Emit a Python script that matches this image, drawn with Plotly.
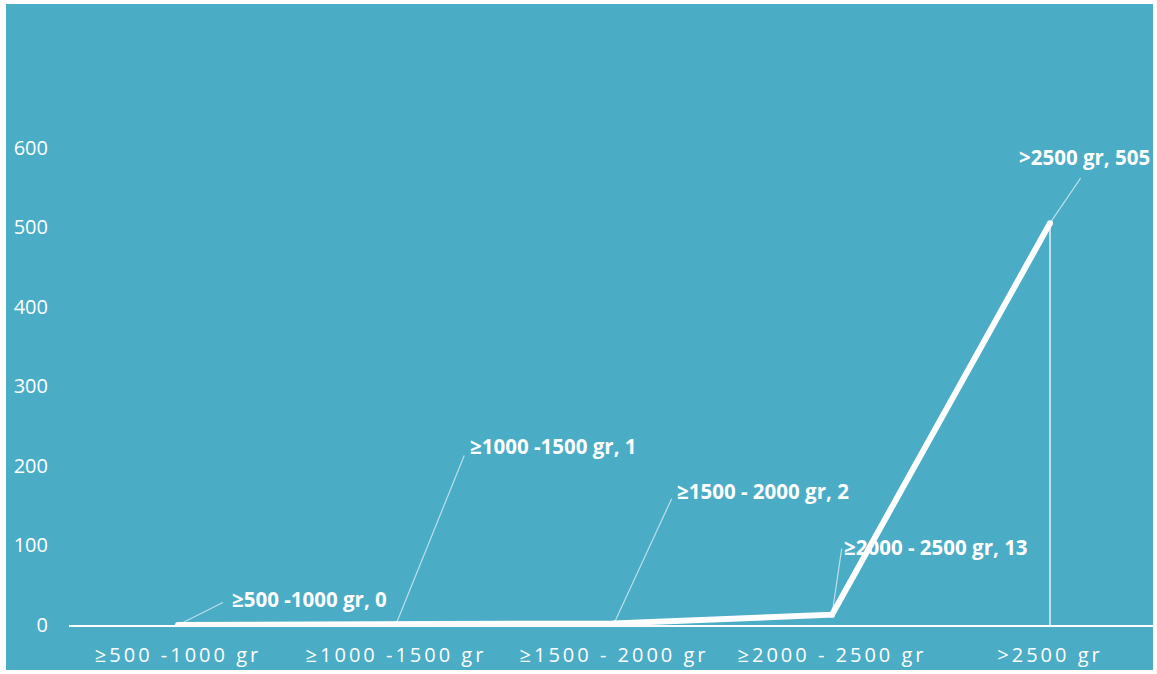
import plotly.graph_objects as go

# Birth-weight bands and counts
categories = ["≥500 -1000 gr", "≥1000 -1500 gr", "≥1500 - 2000 gr", "≥2000 - 2500 gr", ">2500 gr"]
counts = [0, 1, 2, 13, 505]
y_ticks = [0, 100, 200, 300, 400, 500, 600]

TEAL = "#4BACC6"
WHITE = "#FFFFFF"
LEADER = "rgba(255,255,255,0.62)"
FONT = "Open Sans"

W, H = 1157, 674
L, R, T, B = 69, 0, 68, 49
plot_w = W - L - R
plot_h = H - T - B
cat_px = 218  # horizontal pixels per category

fig = go.Figure()

# main series
fig.add_trace(go.Scatter(
    x=categories, y=counts, mode="lines+markers",
    line=dict(color=WHITE, width=6),
    marker=dict(color=WHITE, size=6),
    showlegend=False,
))

# thin drop line under the last point
fig.add_trace(go.Scatter(
    x=[categories[-1], categories[-1]], y=[0, counts[-1]],
    mode="lines", line=dict(color="rgba(255,255,255,0.85)", width=1.5),
    hoverinfo="skip", showlegend=False,
))

# data labels with leader lines (pixel offsets of the text from each point)
offsets = [
    (52, -26, "left", "middle", 8),
    (72, -178, "left", "middle", 10),
    (61, -132, "left", "middle", 8),
    (10, -68, "left", "middle", 2),
    (34, -50, "center", "bottom", 6),
]
for cat, val, (ax, ay, xa, ya, gap) in zip(categories, counts, offsets):
    fig.add_annotation(
        x=cat, y=val, ax=ax, ay=ay, xanchor=xa, yanchor=ya,
        text=f"<b>{cat}, {val}</b>",
        showarrow=True, arrowhead=0, arrowwidth=1.2, arrowcolor=LEADER,
        startstandoff=gap,
        font=dict(family=FONT, size=20.5, color=WHITE),
        borderpad=1,
    )

# teal chart area inside a thin white frame
fig.add_shape(
    type="rect", xref="paper", yref="paper", layer="below",
    x0=(6 - L) / plot_w, x1=(1153 - L) / plot_w,
    y0=(H - B - 670) / plot_h, y1=(H - B - 4) / plot_h,
    fillcolor=TEAL, line=dict(width=0),
)

fig.update_layout(
    width=W, height=H,
    margin=dict(l=L, r=R, t=T, b=B, pad=0),
    paper_bgcolor=WHITE, plot_bgcolor="rgba(0,0,0,0)",
    showlegend=False,
    xaxis=dict(
        type="category",
        categoryorder="array", categoryarray=categories,
        range=[-0.5, -0.5 + plot_w / cat_px],
        tickvals=categories,
        ticktext=[f'<span style="letter-spacing:3px">{c}</span>' for c in categories],
        tickfont=dict(family=FONT, size=20, color=WHITE),
        showgrid=False, zeroline=False,
        showline=True, linecolor=WHITE, linewidth=2,
        ticks="", ticklabelstandoff=11,
    ),
    yaxis=dict(
        range=[0, 700],
        tickvals=y_ticks,
        tickfont=dict(family=FONT, size=20, color=WHITE),
        showgrid=False, zeroline=False, showline=False,
        ticks="", ticklabelstandoff=20,
    ),
)

fig.write_html("out.html")
